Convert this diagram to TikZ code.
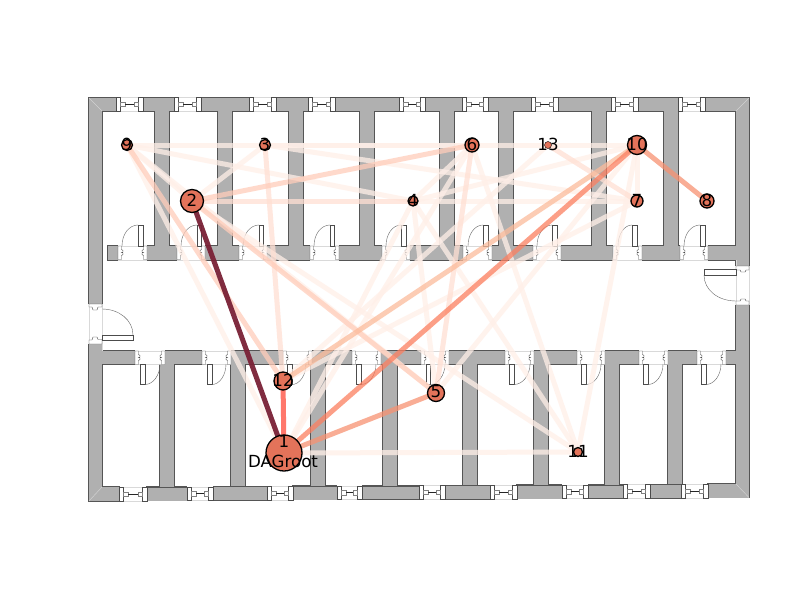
\documentclass[tikz,border=0pt]{standalone}
\usepackage{fontspec}
\setmainfont{DejaVu Sans}
\pgfdeclarelayer{walls}
\pgfdeclarelayer{edges}
\pgfsetlayers{walls,edges,main}
\definecolor{wallfill}{HTML}{B0B0B0}
\definecolor{wallline}{HTML}{555555}
\definecolor{nodefill}{HTML}{E3735A}
\definecolor{e0}{HTML}{FFEFE8}
\definecolor{e1}{HTML}{FFDFD3}
\definecolor{e2}{HTML}{FFCDBA}
\definecolor{e3}{HTML}{FCBB9B}
\definecolor{e4}{HTML}{F79272}
\definecolor{e5}{HTML}{FB7F60}
\definecolor{e6}{HTML}{FF4A3A}
\definecolor{e7}{HTML}{7A2136}
\tikzset{
  x=1pt,y=-1pt,
  wallstroke/.style={draw=wallline,line width=1.3pt},
  wallbody/.style={fill=wallfill},
  faint/.style={draw=black!15,line width=.5pt},
  joinery/.style={draw=black!70,fill=white,line width=.45pt},
  swing/.style={draw=black!60,line width=.4pt},
  link/.style={line width=5pt,draw opacity=.75},
  mote/.style={circle,draw=black,line width=1.3pt,fill=nodefill,inner sep=0pt},
  tag/.style={inner sep=0pt,font=\fontsize{16.67}{20}\selectfont,text=black}
}
\newcommand\wallrects{89/98/116/111,143/98/174/111,201/98/249/111,276/98/308/111,335/98/399/111,425/98/462/111,488/98/531/111,558/98/611/111,638/98/678/111,705/98/749/111,
89/98/102/304,89/344/102/501,736/98/749/266,736/305/749/497.5,
108/246/118/260,147/246/177/260,205/246/239/260,267/246/310/260,339/246/382/260,410/246/463/260,492/246/533/260,561/246/613/260,642/246/680/260,708/246/736/260,
102/351/135/364,165/351/202/364,231/351/283/364,312/351/352/364,381/351/421/364,449/351/505/364,534/351/577/364,605/351/639/364,668/351/697/364,726/351/736/364,
155/111/169/246,218/111/232/246,289/111/303/246,360/111/374/246,440/111/454/246,499/111/513/246,592/111/606/246,664/111/678/246,
160/364/174/487,231/364/245/487,311/364/325/487,383/364/397/486,463/364/477/486,534/364/548/485,605/364/619/485,668/364/682/485,
89/487/119/501,147/487/187/500.5,213/486.5/267/500,293/486/337/499.5,362/486/419/499,445/485.5/490/499,517/485/562/498.5,588/485/623/498,650/484.5/681/498,708/484/749/497.5}
\newcommand\winglyph[3]{%
  \pgfmathsetmacro\wa{#1+4.7}\pgfmathsetmacro\wb{#2-4.7}
  \pgfmathsetmacro\wc{#3-6.8}\pgfmathsetmacro\wd{#3+6.8}
  \pgfmathsetmacro\we{#1+9}\pgfmathsetmacro\wf{#2-9}
  \fill[white] (#1,\wc-.6) rectangle (#2,\wd+.6);
  \draw[faint] (#1,\wc) -- (#2,\wc) (#1,\wd) -- (#2,\wd);
  \draw[joinery] (#1,\wc) rectangle (\wa,\wd);
  \draw[joinery] (\wb,\wc) rectangle (#2,\wd);
  \draw[joinery,draw=black!50] (\wa,#3-2.2) rectangle (\we,#3+2.2);
  \draw[joinery,draw=black!50] (\wf,#3-2.2) rectangle (\wb,#3+2.2);
  \draw[black!85,line width=.7pt] (\we,#3) -- (\wf,#3);
}
\newcommand\jambpiece[3]{%
  \draw[joinery] (#1,#2) -- ++(3.5*#3,0) -- ++(0,3.5) -- ++(1.5*#3,1) -- ++(0,1.5) -- ++(-1.5*#3,.5) -- ++(1.5*#3,.5) -- ++(0,1.5) -- ++(-1.5*#3,1) -- ++(0,4) -- ++(-3.5*#3,0) -- cycle;
}
\newcommand\doorup[5]{%
  \fill[white] (#1,245.3) rectangle (#2,260.7);
  \draw[faint] (#1,246) -- (#2,246) (#1,260) -- (#2,260);
  \jambpiece{#1}{246}{1}\jambpiece{#2}{246}{-1}
  \draw[joinery] (#3,225) rectangle (#4,246);
  \pgfmathsetmacro\da{#3+.55*(#5-#3)}
  \draw[swing] (#3,225) .. controls (\da,225) and (#5,234) .. (#5,246);
}
\newcommand\doordown[5]{%
  \fill[white] (#1,350.3) rectangle (#2,364.7);
  \draw[faint] (#1,351) -- (#2,351) (#1,364) -- (#2,364);
  \jambpiece{#1}{351}{1}\jambpiece{#2}{351}{-1}
  \draw[joinery] (#3,364) rectangle (#4,384.5);
  \pgfmathsetmacro\da{#4+.55*(#5-#4)}
  \draw[swing] (#4,384.5) .. controls (\da,384.5) and (#5,375) .. (#5,364);
}
\begin{document}
\begin{tikzpicture}
\useasboundingbox (0,0) rectangle (800,600);
\begin{pgfonlayer}{walls}
  \fill[white] (0,0) rectangle (800,600);
  \foreach \xa/\ya/\xb/\yb in \wallrects {\draw[wallstroke] (\xa,\ya) rectangle (\xb,\yb);}
  \foreach \xa/\ya/\xb/\yb in \wallrects {\fill[wallbody] (\xa,\ya) rectangle (\xb,\yb);}
  \draw[black!18,line width=.5pt] (89,98) -- (102,111) (749,98) -- (736,111) (89,501) -- (102,487) (749,497.5) -- (736,484);
  \draw[wallline,line width=.45pt] (147,487) -- (187,487) (213,486.5) -- (267,486.5) (293,486) -- (337,486) (362,486) -- (419,486) (445,485.5) -- (490,485.5) (517,485) -- (562,485) (588,485) -- (623,485) (650,484.5) -- (681,484.5);
  \foreach \wx/\wy in {116/143,174/201,249/276,308/335,399/425,462/488,531/558,611/638,678/705}
    {\winglyph{\wx}{\wy}{104.5}}
  \winglyph{119}{147}{494}\winglyph{187}{213}{493.7}\winglyph{267}{293}{493.2}
  \winglyph{337}{362}{492.7}\winglyph{419}{445}{492.3}\winglyph{490}{517}{492}
  \winglyph{562}{588}{491.6}\winglyph{623}{650}{491.3}\winglyph{681}{708}{491}
  \doorup{118}{147}{138}{143}{122}
  \doorup{177}{205}{197}{201}{181}
  \doorup{239}{267}{259}{263}{243}
  \doorup{310}{339}{330}{334}{314}
  \doorup{382}{410}{401}{406}{386}
  \doorup{463}{492}{483}{488}{468}
  \doorup{533}{561}{552}{557}{537}
  \doorup{613}{642}{632}{637}{618}
  \doorup{680}{708}{700}{705}{684}
  \doordown{135}{165}{140}{145}{160}
  \doordown{202}{231}{207}{212}{226}
  \doordown{283}{312}{287}{292}{306}
  \doordown{352}{381}{356}{361}{376}
  \doordown{421}{449}{426}{430}{445}
  \doordown{505}{534}{509}{514}{530}
  \doordown{577}{605}{581}{586}{601}
  \doordown{639}{668}{643}{648}{663}
  \doordown{697}{726}{701}{706}{721}
  \fill[white] (88.3,304) rectangle (102.7,344);
  \draw[faint] (89,304) -- (89,344) (102,304) -- (102,351);
  \draw[joinery] (89,304) -- (102,304) -- (102,307) -- (98,307) -- (97,310) -- (93,310) -- (92,307) -- (89,307) -- cycle;
  \draw[joinery] (89,344) -- (102,344) -- (102,339.5) -- (98,339.5) -- (97,337) -- (93,337) -- (92,340) -- (89,340) -- cycle;
  \draw[joinery] (102,335) rectangle (133,340);
  \draw[swing] (133,335) .. controls (133,320) and (119,309) .. (102,309);
  \fill[white] (735.3,266) rectangle (749.7,305);
  \draw[faint] (749,266) -- (749,305) (736,260) -- (736,305);
  \draw[joinery] (749,266) -- (736,266) -- (736,270) -- (740,270) -- (741,272) -- (745,272) -- (746,270) -- (749,270) -- cycle;
  \draw[joinery] (749,305) -- (736,305) -- (736,301) -- (740,301) -- (741,299) -- (745,299) -- (746,301) -- (749,301) -- cycle;
  \draw[joinery] (704,269.5) rectangle (736,275);
  \draw[swing] (704,275) .. controls (704,290) and (718,301) .. (736,301);
\end{pgfonlayer}

\node[mote,minimum size=36pt] (n1) at (284,453) {};
\node[mote,minimum size=23pt] (n2) at (192,201) {};
\node[mote,minimum size=11pt] (n3) at (265,145) {};
\node[mote,minimum size=10pt] (n4) at (413,201) {};
\node[mote,minimum size=17pt] (n5) at (436,393) {};
\node[mote,minimum size=14pt] (n6) at (472,145) {};
\node[mote,minimum size=12pt] (n7) at (637,201) {};
\node[mote,minimum size=14pt] (n8) at (707,201) {};
\node[mote,minimum size=11pt] (n9) at (127,145) {};
\node[mote,minimum size=19pt] (n10) at (637,145) {};
\node[mote,minimum size=9pt] (n11) at (578,452) {};
\node[mote,minimum size=18pt] (n12) at (283,381) {};
\node[mote,minimum size=7pt,line width=.4pt] (n13) at (548,145) {};

\node[tag] (t1) at (284,441) {1};
\node[tag] (t0) at (283,461) {DAGroot};
\node[tag] (t2) at (192,200) {2};
\node[tag] (t3) at (265,144) {3};
\node[tag] (t4) at (413,200) {4};
\node[tag] (t5) at (436,392) {5};
\node[tag] (t6) at (472,144) {6};
\node[tag] (t7) at (637,200) {7};
\node[tag] (t8) at (707,200) {8};
\node[tag] (t9) at (127,144) {9};
\node[tag] (t10) at (637,144) {10};
\node[tag] (t11) at (578,451) {11};
\node[tag] (t12) at (283,380) {12};
\node[tag] (t13) at (548,144) {13};

\begin{pgfonlayer}{edges}
  \foreach \p/\q in {1/11,1/9,1/4,1/6,9/2,9/5,9/4,9/6,3/6,3/2,3/7,2/11,4/5,4/11,4/7,4/6,4/10,6/13,6/11,13/10,13/12,10/7,10/11,12/7,10/5}
    {\draw[link,e0] (n\p.center) -- (n\q.center);}
  \foreach \p/\q in {2/4,3/12,6/5,13/7}
    {\draw[link,e1] (n\p.center) -- (n\q.center);}
  \foreach \p/\q in {2/6,2/5,9/12}
    {\draw[link,e2] (n\p.center) -- (n\q.center);}
  \draw[link,e3] (n12.center) -- (n10.center);
  \draw[link,e4] (n1.center) -- (n5.center);
  \draw[link,e4] (n10.center) -- (n8.center);
  \draw[link,e5] (n1.center) -- (n10.center);
  \draw[link,e6] (n1.center) -- (n12.center);
  \draw[line width=5pt,e7,draw opacity=.95] (n1.center) -- (n2.center);
\end{pgfonlayer}
\end{tikzpicture}
\end{document}
